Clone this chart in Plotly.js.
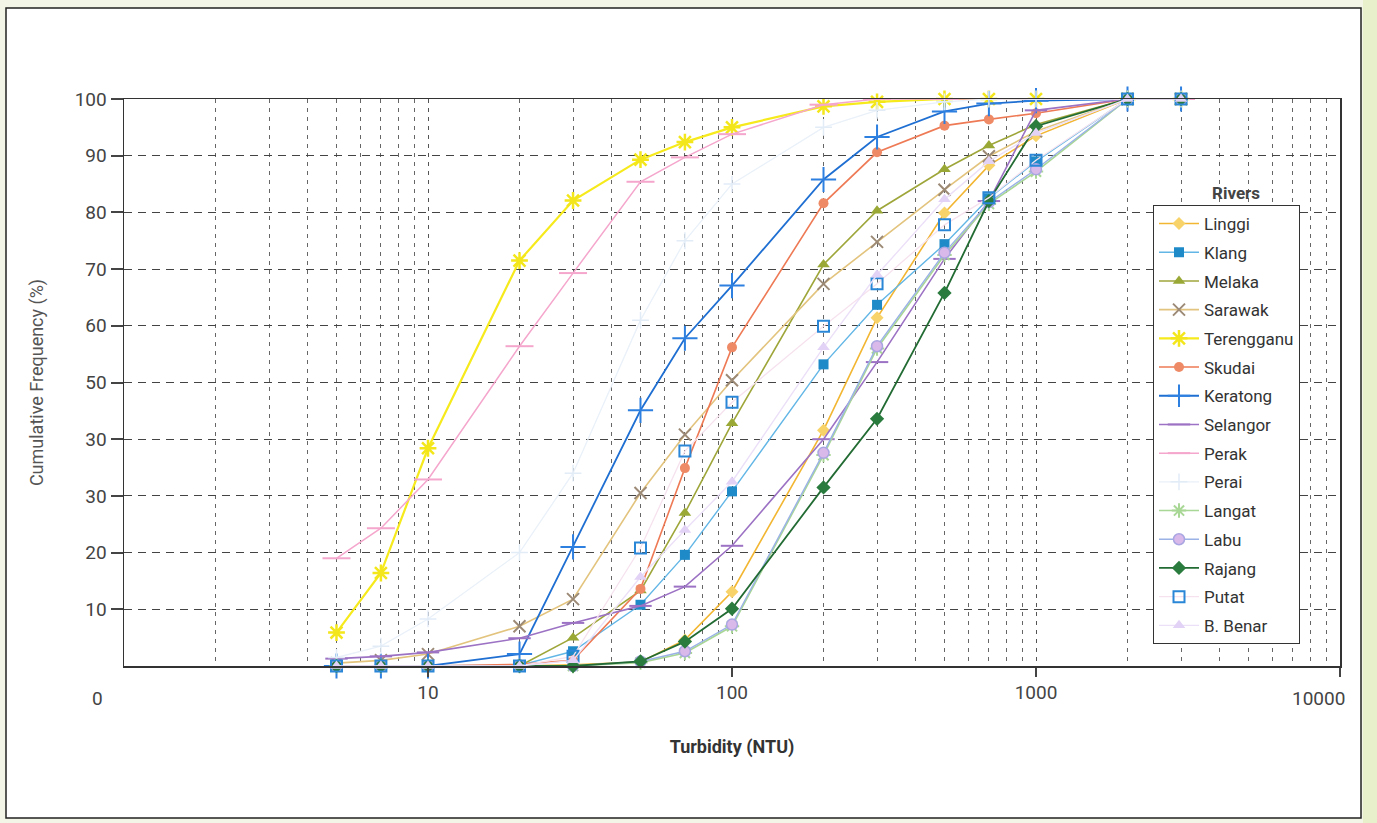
<!DOCTYPE html>
<html><head><meta charset="utf-8">
<script src="https://cdn.plot.ly/plotly-3.0.1.min.js"></script>
<style>html,body{margin:0;padding:0;background:#fff}#chart{width:1377px;height:823px}</style>
</head><body><div id="chart"></div>
<script>
// ---- data ----
const turbidity = [5, 7, 10, 20, 30, 50, 70, 100, 200, 300, 500, 700, 1000, 2000, 3000];
const riverNames = ["Linggi","Klang","Melaka","Sarawak","Terengganu","Skudai","Keratong","Selangor","Perak","Perai","Langat","Labu","Rajang","Putat","B. Benar"];
const linggi     = [0, 0, 0, 0, 0.2, 0.7, 4.6, 13.1, 41.6, 61.4, 79.9, 88.3, 93.5, 100, 100];
const klang      = [0, 0, 0, 0.1, 2.6, 10.8, 19.6, 30.8, 53.2, 63.7, 74.4, 82.5, 89.0, 100, 100];
const melaka     = [0, 0, 0, 0, 5.0, 13.3, 27.0, 42.8, 70.8, 80.3, 87.6, 91.8, 95.5, 100, 100];
const sarawak    = [0.5, 1.0, 2.1, 7.0, 11.8, 30.5, 40.8, 50.4, 67.4, 74.8, 84.0, 89.9, 94.3, 100, 100];
const terengganu = [5.9, 16.4, 38.4, 71.5, 82.1, 89.3, 92.4, 95.0, 98.7, 99.5, 100, 100, 100, 100, 100];
const skudai     = [0, 0, 0, 0.3, 1.0, 13.6, 34.9, 56.2, 81.6, 90.6, 95.3, 96.4, 97.5, 100, 100];
const keratong   = [0, 0, 0, 2.1, 21.0, 45.1, 57.8, 67.1, 85.8, 93.3, 97.8, 99.2, 99.7, 100, 100];
const selangor   = [1.3, 1.7, 2.4, 4.9, 7.6, 10.6, 14.0, 21.2, 40.0, 53.6, 71.8, 82.0, 98.0, 100, 100];
const perak      = [19.0, 24.3, 32.9, 56.4, 69.3, 85.4, 89.7, 93.8, 99.0, 100, 100, 100, 100, 100, 100];
const perai      = [1.5, 3.5, 8.3, 20.0, 34.0, 61.0, 75.0, 85.0, 95.0, 98.0, 99.5, 100, 100, 100, 100];
const langat     = [0, 0, 0, 0, 0, 0.6, 2.3, 7.0, 37.2, 56.0, 72.5, 81.5, 87.2, 100, 100];
const labu       = [0, 0, 0, 0, 0, 0.8, 2.6, 7.3, 37.6, 56.4, 72.9, 81.8, 87.6, 100, 100];
const rajang     = [0, 0, 0, 0, 0, 0.8, 4.3, 10.1, 31.5, 43.6, 65.8, 82.0, 95.2, 100, 100];
const putat      = [0, 0, 0, 0, 1.7, 20.8, 37.9, 46.5, 59.9, 67.4, 77.8, 82.6, 89.2, 100, 100];
const bBenar     = [0, 0, 0, 0, 1.0, 15.7, 24.0, 32.5, 56.2, 69.0, 82.3, 89.0, 94.0, 100, 100];

const yTickVals = [10, 20, 30, 40, 50, 60, 70, 80, 90, 100];
const yTickText = ["10", "20", "30", "30", "50", "60", "70", "80", "90", "100"];
const xTickVals = [1, 10, 100, 1000, 10000];
const xTickText = ["0", "10", "100", "1000", "10000"];

// ---- styles ----
const FONT = "Roboto, 'Liberation Sans', sans-serif";
const seriesValues = [linggi, klang, melaka, sarawak, terengganu, skudai, keratong, selangor, perak, perai, langat, labu, rajang, putat, bBenar];
const styles = [
  {line:{color:'#f2b632', width:1.6}, marker:{symbol:'diamond', size:10, color:'#f8d36a'}},
  {line:{color:'#62b6e6', width:1.4}, marker:{symbol:'square', size:10, color:'#1f8ac8'}},
  {line:{color:'#9ea63a', width:1.6}, marker:{symbol:'triangle-up', size:11, color:'#9aa836'}},
  {line:{color:'#e3c47e', width:1.6}, marker:{symbol:'x-thin', size:12, color:'#9c8a76', line:{width:2, color:'#9c8a76'}}},
  {line:{color:'#f6ea1c', width:2.2}, marker:{symbol:'asterisk', size:14, color:'#f3e61a', line:{width:2.5, color:'#f3e61a'}}},
  {line:{color:'#ee7a55', width:1.6}, marker:{symbol:'circle', size:10, color:'#ee8a66'}},
  {line:{color:'#1f6fd2', width:1.8}, marker:{symbol:'cross-thin', size:18, color:'#2e80e0', line:{width:2, color:'#2e80e0'}}},
  {line:{color:'#9c72c4', width:1.6}, marker:{symbol:'line-ew', size:16, color:'#9c72c4', line:{width:2, color:'#9c72c4'}}},
  {line:{color:'#f5a6cc', width:1.5}, marker:{symbol:'line-ew', size:20, color:'#f5a6cc', line:{width:2, color:'#f5a6cc'}}},
  {line:{color:'#eaf1f9', width:1.3}, marker:{symbol:'cross-thin', size:12, color:'#e2ecf7', line:{width:1.5, color:'#e2ecf7'}}},
  {line:{color:'#a9d795', width:1.6}, marker:{symbol:'asterisk', size:12, color:'#a9d795', line:{width:2, color:'#a9d795'}}},
  {line:{color:'#9ab2e6', width:1.4}, marker:{symbol:'circle', size:11, color:'#d9b8ea', line:{width:1.5, color:'#a9a6e2'}}},
  {line:{color:'#226b33', width:1.8}, marker:{symbol:'diamond', size:11, color:'#2a7b3e'}},
  {line:{color:'#f6e2ee', width:1.3}, marker:{symbol:'square-open', size:11, color:'#2a86d6', line:{width:2, color:'#2a86d6'}}},
  {line:{color:'#ece0f8', width:1.4}, marker:{symbol:'triangle-up', size:11, color:'#e2d2f6'}}
];

const traces = riverNames.map((name, i) => ({
  type: 'scatter', mode: 'lines+markers', name: name,
  x: turbidity, y: seriesValues[i],
  line: styles[i].line, marker: styles[i].marker,
  cliponaxis: false, legendgroup: 'g' + i
}));

const minorVals = [];
for (let d = 1; d <= 1000; d *= 10) for (let k = 2; k <= 9; k++) minorVals.push(k * d);

const L = 124, R = 1340, T = 99, B = 666, W = 1377, H = 823;
const px = v => (v - L) / (R - L);
const py = v => (B - v) / (B - T);

const layout = {
  width: W, height: H,
  margin: {l: L, r: W - R, t: T, b: H - B},
  paper_bgcolor: '#f3f6e6', plot_bgcolor: 'rgba(0,0,0,0)',
  font: {family: FONT, color: '#333'},
  showlegend: true,
  legend: {
    x: px(1153), y: py(205), xanchor: 'left', yanchor: 'top',
    bgcolor: '#ffffff', bordercolor: '#333', borderwidth: 1,
    font: {family: FONT, size: 17, color: '#333'},
    traceorder: 'grouped', tracegroupgap: 3.6, itemwidth: 40
  },
  xaxis: {
    type: 'log', range: [0, 4],
    tickmode: 'array', tickvals: xTickVals.slice(1),
    ticktext: xTickText.slice(1).map((t, i, a) => i === a.length - 1 ? '' : t),
    ticks: 'outside', ticklen: 9, tickwidth: 2, tickcolor: '#444',
    tickfont: {family: FONT, size: 19, color: '#444'},
    showline: true, linecolor: '#333', linewidth: 1.5, mirror: true,
    showgrid: true, gridcolor: '#555', gridwidth: 1, griddash: '4px,5px',
    minor: {tickmode: 'array', tickvals: minorVals, ticks: '', showgrid: true, gridcolor: '#666', gridwidth: 1, griddash: '4px,5px'},
    zeroline: false,
    title: {text: '<b>Turbidity (NTU)</b>', font: {family: FONT, size: 18, color: '#333'}, standoff: 37}
  },
  yaxis: {
    range: [0, 100], tickmode: 'array', tickvals: yTickVals, ticktext: yTickText,
    ticks: 'outside', ticklen: 12, tickwidth: 2, tickcolor: '#444',
    tickfont: {family: FONT, size: 19, color: '#444'},
    showline: true, linecolor: '#333', linewidth: 1.5, mirror: true,
    showgrid: true, gridcolor: '#444', gridwidth: 1, griddash: '8px,6px',
    zeroline: false,
    title: {text: 'Cumulative Frequency (%)', font: {family: FONT, size: 18, color: '#555'}, standoff: 26}
  },
  shapes: [
    {type: 'rect', xref: 'paper', yref: 'paper', layer: 'below',
     x0: px(6), x1: px(1361), y0: py(818), y1: py(8),
     fillcolor: '#ffffff', line: {color: '#222', width: 1.5}},
    {type: 'rect', xref: 'paper', yref: 'paper', layer: 'below',
     x0: px(1363), x1: px(1380), y0: py(830), y1: py(-5),
     fillcolor: '#e7f0cb', line: {width: 0}}
  ],
  annotations: [
    {text: '<b>Rivers</b>', xref: 'paper', yref: 'paper', x: px(1236), y: py(193),
     xanchor: 'center', yanchor: 'middle', showarrow: false,
     font: {family: FONT, size: 17, color: '#444'}},
    {text: xTickText[0], xref: 'x', yref: 'paper', x: Math.log10(xTickVals[0]), y: py(698),
     xshift: -27, xanchor: 'center', yanchor: 'middle', showarrow: false,
     font: {family: FONT, size: 19, color: '#444'}},
    {text: xTickText[4], xref: 'x', yref: 'paper', x: Math.log10(xTickVals[4]), y: py(698),
     xshift: -22, xanchor: 'center', yanchor: 'middle', showarrow: false,
     font: {family: FONT, size: 19, color: '#444'}}
  ]
};

Plotly.newPlot('chart', traces, layout, {displayModeBar: false, staticPlot: true});
</script></body></html>
